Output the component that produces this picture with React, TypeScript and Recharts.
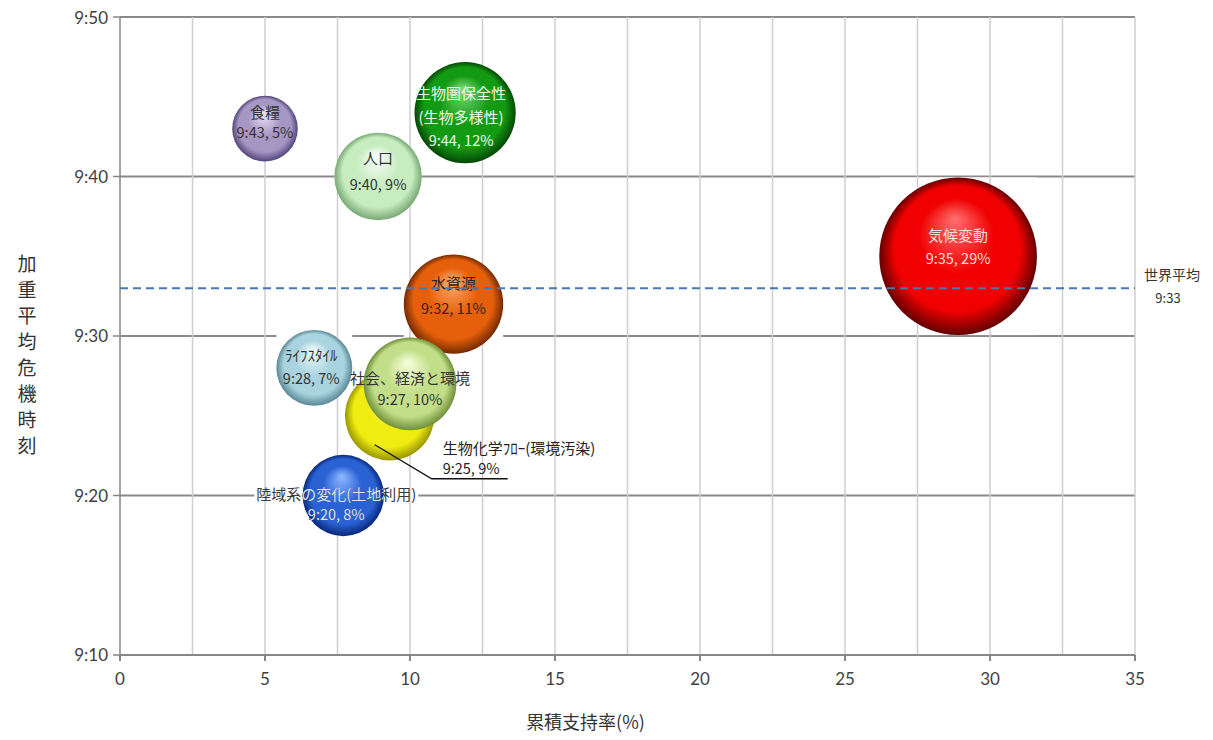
import {
  CartesianGrid,
  Label,
  ReferenceLine,
  Scatter,
  ScatterChart,
  XAxis,
  YAxis,
  ZAxis,
} from 'recharts';

// data (drawing order matters for overlaps)
const TOPICS = [
  '食糧',
  '生物圏保全性\n(生物多様性)',
  '人口',
  '気候変動',
  '水資源',
  'ﾗｲﾌｽﾀｲﾙ',
  '生物化学ﾌﾛｰ(環境汚染)',
  '社会、経済と環境',
  '陸域系の変化(土地利用)',
];
const SUPPORT_PCT = [5.0, 11.9, 8.9, 28.9, 11.5, 6.7, 9.3, 10.0, 7.7];
const CRISIS_MINUTE = [43, 44, 40, 35, 32, 28, 25, 27, 20]; // minutes after 9:00
const LABEL_PCT = [5, 12, 9, 29, 11, 7, 9, 10, 8];

const X_TICKS = [0, 5, 10, 15, 20, 25, 30, 35];
const X_MINOR = [2.5, 5, 7.5, 10, 12.5, 15, 17.5, 20, 22.5, 25, 27.5, 30, 32.5, 35];
const Y_TICKS = [10, 20, 30, 40, 50];
const WORLD_AVG_MINUTE = 33;

const X_TITLE = '累積支持率(%)';
const Y_TITLE = '加重平均危機時刻';
const AVG_LABEL = '世界平均';

const JP = '"Noto Sans CJK JP", "Noto Sans", sans-serif';
const NUM = 'Lato, "Noto Sans", sans-serif';

interface Look {
  light: string;
  base: string;
  dark: string;
  text: string;
  dx: number;
  nameDy: number[];
  timeDy: number;
  outside?: boolean;
  innerText?: string;
  maskHalf?: number;
  maskDx?: number;
}

const LOOKS: Look[] = [
  { light: '#ece6f6', base: '#a596c4', dark: '#54467a', text: '#333', dx: 0, nameDy: [-17], timeDy: 3 },
  { light: '#7ddc7d', base: '#139a13', dark: '#054805', text: '#eefaee', dx: -4, nameDy: [-20, 4], timeDy: 27 },
  { light: '#ffffff', base: '#c6ecbf', dark: '#7aa875', text: '#333', dx: 0, nameDy: [-19], timeDy: 7 },
  { light: '#ff7070', base: '#f00000', dark: '#640000', text: '#f8dede', dx: 0, nameDy: [-22], timeDy: 1 },
  { light: '#ffae6a', base: '#e6600c', dark: '#742a00', text: '#2e241c', dx: 0, nameDy: [-22], timeDy: 3 },
  { light: '#f4fcfe', base: '#a9d3df', dark: '#5a8896', text: '#333', dx: -3, nameDy: [-13], timeDy: 10 },
  { light: '#ffffa8', base: '#f0ec12', dark: '#989600', text: '#222', dx: 53, nameDy: [32], timeDy: 52, outside: true },
  { light: '#f6ffdc', base: '#c3de88', dark: '#70903a', text: '#333', dx: 0, nameDy: [-6], timeDy: 15 },
  { light: '#8fb8ff', base: '#2a62d4', dark: '#0a287c', text: '#3a3a3a', innerText: '#dce6ff', dx: -7, nameDy: [-2], timeDy: 18, maskHalf: 82, maskDx: -7 },
];

const rows = TOPICS.map((name, i) => ({
  idx: i,
  name,
  support: SUPPORT_PCT[i],
  minute: CRISIS_MINUTE[i],
  pct: LABEL_PCT[i],
}));

function Mask(props: any) {
  const { cx, cy, width, payload } = props;
  const r = width / 2;
  const look = LOOKS[payload.idx];
  const half = Math.max(r, look.maskHalf ?? 0);
  const dx = look.maskHalf ? look.maskDx ?? 0 : 0;
  return <rect x={cx + dx - half} y={cy - r} width={half * 2} height={r * 2} fill="#fff" />;
}

function BubbleText({ look, lines, time, cx, cy, fill }: any) {
  const anchor = look.outside ? 'start' : 'middle';
  return (
    <g fontFamily={JP} fill={fill} textAnchor={anchor}>
      {lines.map((ln: string, k: number) => (
        <text key={k} x={cx + look.dx} y={cy + look.nameDy[k]} dominantBaseline="central" fontSize={15}>
          {ln}
        </text>
      ))}
      <text x={cx + look.dx} y={cy + look.timeDy} dominantBaseline="central" fontSize={14.5}>
        {time}
      </text>
    </g>
  );
}

function Bubble(props: any) {
  const { cx, cy, width, payload } = props;
  const r = width / 2;
  const look = LOOKS[payload.idx];
  const id = `sphere-${payload.idx}`;
  const lines = String(payload.name).split('\n');
  const time = `9:${payload.minute}, ${payload.pct}%`;
  return (
    <g>
      <defs>
        <radialGradient id={id} cx="50%" cy="50%" r="50%" fx="48%" fy="26%">
          <stop offset="0%" stopColor={look.light} />
          <stop offset="48%" stopColor={look.base} />
          <stop offset="80%" stopColor={look.base} />
          <stop offset="100%" stopColor={look.dark} />
        </radialGradient>
        <clipPath id={`${id}-clip`}>
          <circle cx={cx} cy={cy} r={r} />
        </clipPath>
      </defs>
      <circle cx={cx} cy={cy} r={r} fill={`url(#${id})`} />
      {look.outside && (
        <polyline
          points={`${cx - 15},${cy + 29} ${cx + 42},${cy + 63} ${cx + 118},${cy + 63}`}
          fill="none"
          stroke="#111"
          strokeWidth={1.3}
        />
      )}
      <BubbleText look={look} lines={lines} time={time} cx={cx} cy={cy} fill={look.text} />
      {look.innerText && (
        <g clipPath={`url(#${id}-clip)`}>
          <BubbleText look={look} lines={lines} time={time} cx={cx} cy={cy} fill={look.innerText} />
        </g>
      )}
    </g>
  );
}

function YTitle({ viewBox }: any) {
  const chars = Array.from(Y_TITLE);
  const midY = viewBox.y + viewBox.height / 2 + 17;
  const x0 = viewBox.x + 19;
  return (
    <text fontFamily={JP} fontSize={19} fill="#333" textAnchor="middle">
      {chars.map((c, i) => (
        <tspan key={i} x={x0} y={midY + (i - (chars.length - 1) / 2) * 26} dominantBaseline="central">
          {c}
        </tspan>
      ))}
    </text>
  );
}

function XTitle({ viewBox }: any) {
  return (
    <text
      x={viewBox.x + viewBox.width / 2 - 42}
      y={viewBox.y + 66}
      fontFamily={JP}
      fontSize={18}
      fill="#333"
      textAnchor="middle"
      dominantBaseline="central"
    >
      {X_TITLE}
    </text>
  );
}

function AvgLabel({ viewBox }: any) {
  const x = viewBox.x + viewBox.width + 37;
  const y = viewBox.y;
  return (
    <g fontFamily={JP} fill="#333" textAnchor="middle">
      <text x={x} y={y - 14} fontSize={14} dominantBaseline="central">
        {AVG_LABEL}
      </text>
      <text x={x - 4} y={y + 9} fontSize={13} dominantBaseline="central">
        {`9:${WORLD_AVG_MINUTE}`}
      </text>
    </g>
  );
}

export default function App() {
  return (
    <ScatterChart
      width={1200}
      height={730}
      margin={{ top: 9, right: 73, bottom: 5, left: 0 }}
      style={{ background: '#fff' }}
    >
      <CartesianGrid horizontal vertical={false} stroke="#8a8a8a" strokeWidth={2} zIndex={-100} />
      <XAxis
        type="number"
        dataKey="support"
        domain={[0, 35]}
        ticks={X_TICKS}
        height={78}
        tickSize={6}
        tickMargin={12}
        stroke="#868686"
        strokeWidth={2}
        tick={{ fontFamily: NUM, fontSize: 17, fill: '#404040' }}
      >
        <Label content={<XTitle />} />
      </XAxis>
      <YAxis
        type="number"
        dataKey="minute"
        domain={[10, 50]}
        ticks={Y_TICKS}
        width={112}
        tickSize={7}
        tickMargin={5}
        stroke="#868686"
        strokeWidth={1.5}
        tickFormatter={(m: number) => `9:${m}`}
        tick={{ fontFamily: NUM, fontSize: 17, fill: '#404040' }}
      >
        <Label content={<YTitle />} />
      </YAxis>
      <ZAxis type="number" dataKey="support" domain={[0, 30]} range={[0, 20262]} />
      <Scatter data={rows} shape={<Mask />} isAnimationActive={false} zIndex={50} />
      {X_MINOR.map((v) => (
        <ReferenceLine key={v} x={v} stroke="#cfcfcf" strokeWidth={1.5} zIndex={60} />
      ))}
      <Scatter data={rows} shape={<Bubble />} isAnimationActive={false} zIndex={600} />
      <ReferenceLine
        y={WORLD_AVG_MINUTE}
        stroke="#4a78b0"
        strokeWidth={2}
        strokeDasharray="8 5"
        zIndex={700}
        label={<AvgLabel />}
      />
    </ScatterChart>
  );
}
